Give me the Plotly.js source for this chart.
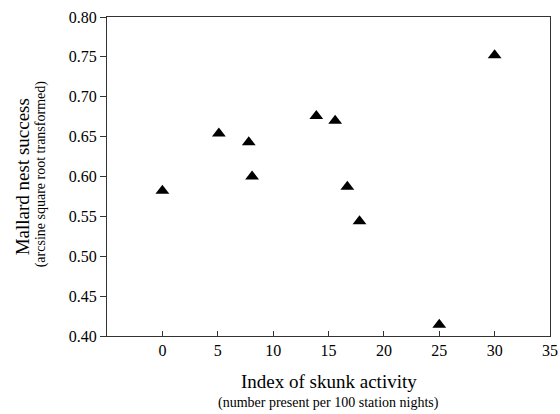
<!DOCTYPE html>
<html>
<head>
<meta charset="utf-8">
<script src="https://cdn.plot.ly/plotly-3.0.1.min.js"></script>
<style>html,body{margin:0;padding:0;background:#fff;}#chart{width:560px;height:414px;}</style>
</head>
<body>
<div id="chart"></div>
<script>
const skunkIndex = [0, 5.1, 7.8, 8.1, 13.9, 15.6, 16.7, 17.8, 25.0, 30.0];
const nestSuccess = [0.582, 0.654, 0.643, 0.600, 0.676, 0.670, 0.587, 0.544, 0.414, 0.752];
const xTicks = [0, 5, 10, 15, 20, 25, 30, 35];
const yTicks = [0.40, 0.45, 0.50, 0.55, 0.60, 0.65, 0.70, 0.75, 0.80];
const xTitle = 'Index of skunk activity';
const xSubtitle = '(number present per 100 station nights)';
const yTitle = 'Mallard nest success';
const ySubtitle = '(arcsine square root transformed)';

const font = 'Liberation Serif, Times New Roman, serif';
const trace = {
  x: skunkIndex, y: nestSuccess, type: 'scatter', mode: 'markers',
  marker: {symbol: 'triangle-up', size: 12, color: '#000'},
  showlegend: false, hoverinfo: 'x+y'
};
function ann(text, x, y, size, angle) {
  return {text: text, x: x, y: y, xref: 'paper', yref: 'paper', showarrow: false,
    xanchor: 'center', yanchor: 'middle', textangle: angle,
    font: {family: font, size: size, color: '#000'}};
}
const layout = {
  width: 560, height: 414,
  margin: {l: 107, r: 10, t: 17, b: 78},
  paper_bgcolor: '#fff', plot_bgcolor: '#fff',
  font: {family: font, color: '#000', size: 16},
  xaxis: {
    range: [-5, 35], tickvals: xTicks, ticktext: xTicks.map(String),
    ticks: 'inside', ticklen: 5, tickcolor: '#333',
    showline: true, mirror: true, linecolor: '#333', linewidth: 1,
    showgrid: false, zeroline: false,
    tickfont: {family: font, size: 16}
  },
  yaxis: {
    range: [0.40, 0.80], tickvals: yTicks, ticktext: yTicks.map(v => v.toFixed(2)),
    ticks: 'outside', ticklen: 6, tickcolor: '#333',
    showline: true, mirror: true, linecolor: '#333', linewidth: 1,
    showgrid: false, zeroline: false,
    tickfont: {family: font, size: 16}
  },
  annotations: [
    ann(xTitle, 0.5, -0.144, 19, 0),
    ann(xSubtitle, 0.5, -0.210, 14, 0),
    ann(yTitle, -0.190, 0.5, 19, -90),
    ann(ySubtitle, -0.149, 0.51, 14, -90)
  ]
};
Plotly.newPlot('chart', [trace], layout, {displayModeBar: false, staticPlot: true});
</script>
</body>
</html>
